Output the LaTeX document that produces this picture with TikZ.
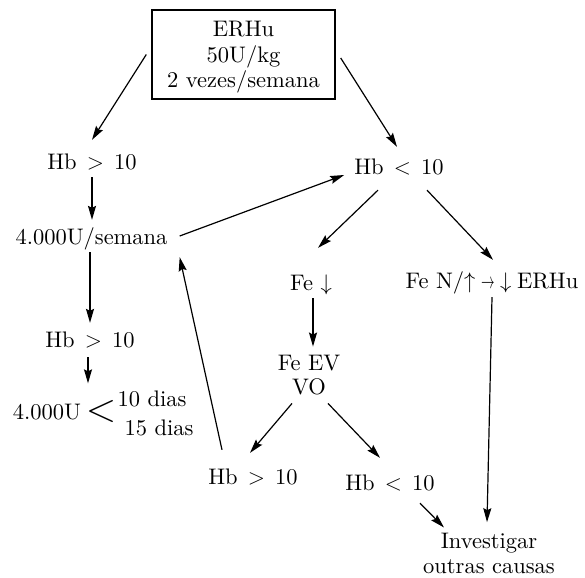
\RequirePackage{fix-cm}
\documentclass[tikz,border=0pt]{standalone}
\usepackage{fontspec}
\setmainfont{lmroman10-regular}[Extension = .otf]
\usepackage{amsmath, amssymb}
\usetikzlibrary{arrows.meta}

\newcommand{\hbcomp}[1]{Hb\hspace{.45em}$#1$\hspace{.45em}10}

\begin{document}
\begin{tikzpicture}[x = 1pt, y = -1pt, font = \fontsize{22.5}{24}\selectfont]
	\tikzstyle{boxStyle} = [draw, line width = 1.4pt, minimum width = 183pt, minimum height = 89pt, inner sep = 0pt, align = center, font = \fontsize{22.5}{25.5}\selectfont]
	\tikzstyle{textStyle} = [inner sep = 0pt, text height = 18.2pt, text depth = 2.7pt]
	\tikzstyle{linesStyle} = [inner sep = 0pt, align = center]
	\tikzstyle{arrowStyle} = [line width = 1.2pt, -{Stealth[length = 14pt, width = 8pt, inset = 2pt]}]
	\useasboundingbox (0,0) rectangle (585,577);
	\node[boxStyle] (erhu) at (243.5,54.5) {\rule{0pt}{21.4pt}ERHu\\50U/kg\\2 vezes/semana};
	\node[textStyle] (hbA) at (92,162) {\hbcomp{>}};
	\node[textStyle] (hbB) at (399,167) {\hbcomp{<}};
	\node[textStyle] (dose) at (91.5,237) {4.000U/semana};
	\node[textStyle] (feLow) at (311,283) {Fe $\downarrow$};
	\node[textStyle] (feN) at (492,281) {Fe N/$\uparrow$\hspace{.25em}\scalebox{.6}[1]{$\rightarrow$}\hspace{.25em}$\downarrow$\hspace{.25em}ERHu};
	\node[textStyle] (hbC) at (90,340) {\hbcomp{>}};
	\node[textStyle] (dose2) at (47,412) {4.000U};
	\node[inner sep = 0pt, font = \fontsize{40}{40}\selectfont] (brk) at (101,411) {$<$};
	\node[inner sep = 0pt] (d10) at (152,399) {10 dias};
	\node[inner sep = 0pt] (d15) at (159,428) {15 dias};
	\node[linesStyle] (feEV) at (309,375) {Fe EV\\VO};
	\node[textStyle] (hbD) at (253,477) {\hbcomp{>}};
	\node[textStyle] (hbE) at (390,483) {\hbcomp{<}};
	\node[linesStyle, font = \fontsize{22.5}{25}\selectfont] (invest) at (489,553) {Investigar\\outras causas};
	\draw[arrowStyle] ([xshift = -5pt]erhu.west) -- ([yshift = 11.5pt]hbA.north);
	\draw[arrowStyle] ([xshift = 5pt, yshift = -3.5pt]erhu.east) -- ([xshift = -2pt, yshift = 9.5pt]hbB.north);
	\draw[arrowStyle] ([yshift = -4.5pt]hbA.south) -- ([xshift = 0.5pt, yshift = 6.5pt]dose.north);
	\draw[arrowStyle] ([xshift = 12pt, yshift = 1pt]dose.east) -- ([xshift = -10pt, yshift = -8pt]hbB.west);
	\draw[arrowStyle] ([xshift = -1.5pt, yshift = -4.5pt]dose.south) -- ([yshift = 6.5pt]hbC.north);
	\draw[arrowStyle] ([xshift = -2pt, yshift = -6.5pt]hbC.south) -- ([xshift = -13pt, yshift = 16.4pt]brk.north);
	\draw[arrowStyle] ([xshift = -31pt, yshift = 16.5pt]hbD.north) -- ([xshift = 12pt, yshift = -9.5pt]dose.south east);
	\draw[arrowStyle] ([xshift = -21pt, yshift = -12.5pt]hbB.south) -- ([xshift = 7pt, yshift = 24.5pt]feLow.north);
	\draw[arrowStyle] ([xshift = 28pt, yshift = -12.5pt]hbB.south) -- ([xshift = 1pt, yshift = 10.5pt]feN.north);
	\draw[arrowStyle] ([xshift = 2pt, yshift = -4.5pt]feLow.south) -- ([xshift = 4pt, yshift = 8.3pt]feEV.north);
	\draw[arrowStyle] ([yshift = -5.5pt]feN.south) -- ([xshift = -2pt, yshift = 10.3pt]invest.north);
	\draw[arrowStyle] ([xshift = -17pt, yshift = -8.3pt]feEV.south) -- ([xshift = -3pt, yshift = 13.5pt]hbD.north);
	\draw[arrowStyle] ([xshift = 19pt, yshift = -8.3pt]feEV.south) -- ([xshift = -10pt, yshift = 14.5pt]hbE.north);
	\draw[arrowStyle] ([xshift = 30pt, yshift = -9.5pt]hbE.south) -- ([xshift = -45pt, yshift = 5pt]invest.north);
\end{tikzpicture}
\end{document}
